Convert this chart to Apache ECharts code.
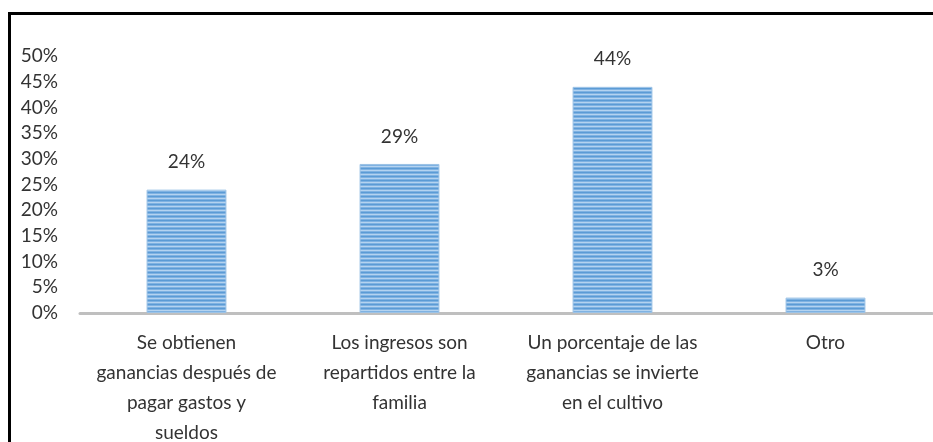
<!DOCTYPE html>
<html>
<head>
<meta charset="utf-8">
<script src="https://cdn.jsdelivr.net/npm/echarts@6/dist/echarts.min.js"></script>
<style>
  html, body { margin: 0; padding: 0; background: #fff; }
  #chart { width: 933px; height: 442px; }
</style>
</head>
<body>
<div id="chart"></div>
<script>
// categories and values
const categories = [
  "Se obtienen\nganancias después de\npagar gastos y\nsueldos",
  "Los ingresos son\nrepartidos entre la\nfamilia",
  "Un porcentaje de las\nganancias se invierte\nen el cultivo",
  "Otro",
];
const values = [24, 29, 44, 3];

// striped fill like the original (horizontal lines)
const makeStripes = () => {
  const c = document.createElement("canvas");
  c.width = 4;
  c.height = 4;
  const ctx = c.getContext("2d");
  const rows = ["#5b9bd5", "#7fb2e2", "#b4d3f0", "#7fb2e2"];
  rows.forEach((col, i) => {
    ctx.fillStyle = col;
    ctx.fillRect(0, i, 4, 1);
  });
  return c;
};

const font = "Lato, 'Noto Sans', sans-serif";
const textColor = "#333333";

const chart = echarts.init(document.getElementById("chart"));
chart.setOption({
  animation: false,
  grid: { left: 80, right: 1, top: 56, bottom: 129, outerBoundsMode: "none" },
  xAxis: {
    type: "category",
    data: categories,
    axisLine: { lineStyle: { color: "#bfbfbf", width: 3 } },
    axisTick: { show: false },
    axisLabel: {
      interval: 0,
      color: textColor,
      fontFamily: font,
      fontSize: 19,
      lineHeight: 30,
      margin: 15,
    },
  },
  yAxis: {
    type: "value",
    min: 0,
    max: 50,
    interval: 5,
    splitLine: { show: false },
    axisLine: { show: false },
    axisTick: { show: false },
    axisLabel: {
      color: textColor,
      fontFamily: font,
      fontSize: 19,
      margin: 22,
      formatter: (v) => v + "%",
    },
  },
  series: [
    {
      type: "bar",
      data: values,
      barWidth: "37.5%",
      itemStyle: {
        color: { image: makeStripes(), repeat: "repeat" },
        borderColor: "#9dc3e6",
        borderWidth: 1,
      },
      label: {
        show: true,
        position: "top",
        distance: 18,
        color: textColor,
        fontFamily: font,
        fontSize: 19,
        formatter: (p) => p.value + "%",
      },
    },
  ],
  graphic: [
    {
      type: "rect",
      shape: { x: 9.5, y: 13.5, width: 2000, height: 2000 },
      style: { fill: "none", stroke: "#000", lineWidth: 3 },
      silent: true,
    },
  ],
});
</script>
</body>
</html>
